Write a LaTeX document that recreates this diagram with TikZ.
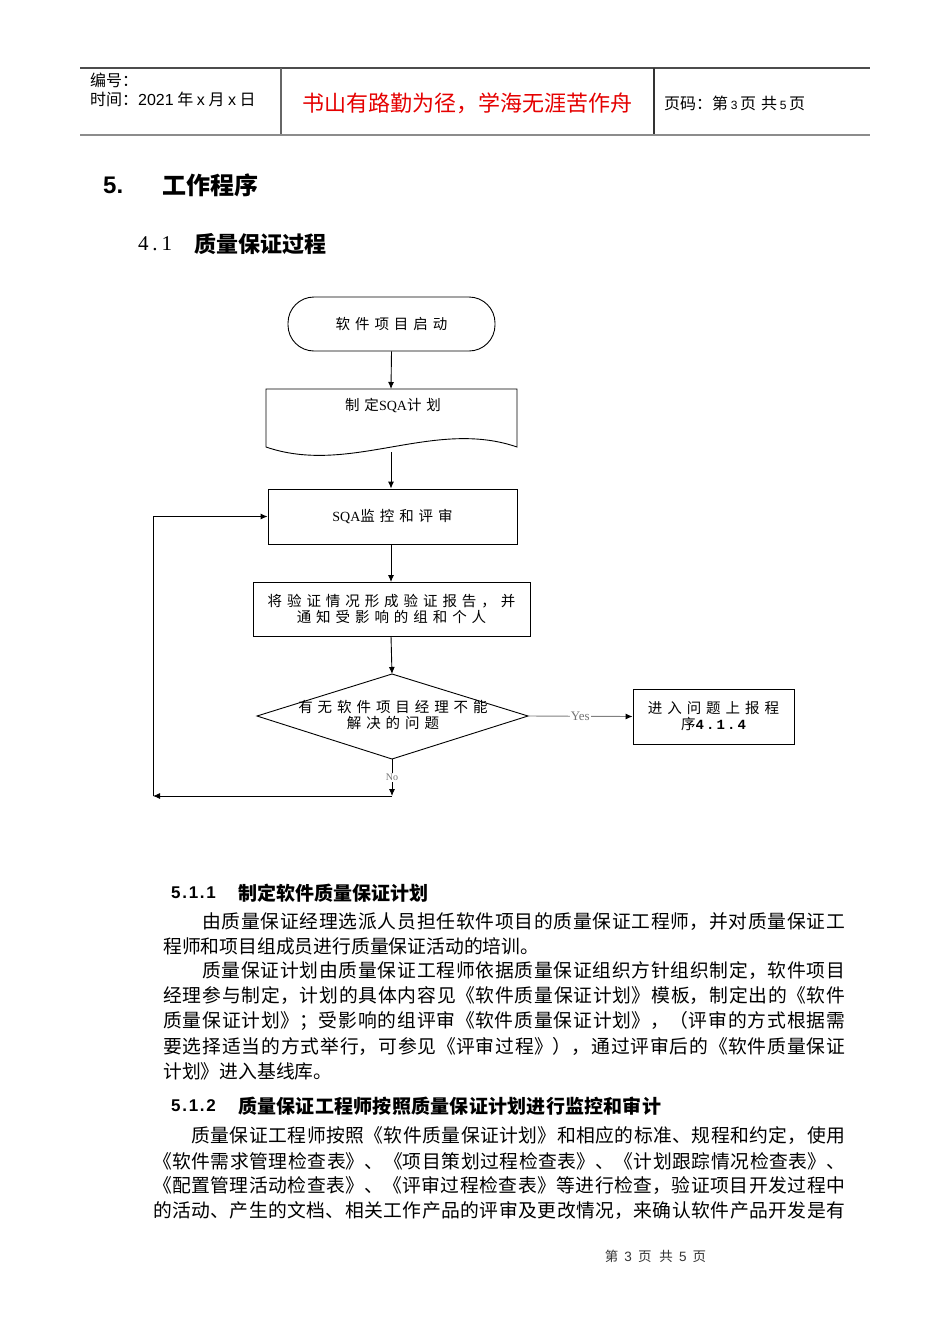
\documentclass[tikz,border=0pt]{standalone}
\usepackage{fontspec}
\setmainfont{Liberation Serif}
\usetikzlibrary{arrows.meta,calc}
\newfontfamily\cjk{Noto Sans CJK SC}
\newfontfamily\cjkfc[LetterSpace=34]{Noto Sans CJK SC}
\newfontfamily\sans{Liberation Sans}
\newfontfamily\sansls[LetterSpace=10]{Liberation Sans}
\newfontfamily\serif{Liberation Serif}
\newfontfamily\serifls[LetterSpace=18]{Liberation Serif}
\newfontfamily\monob[LetterSpace=15]{Liberation Mono}
\newcommand\fcf{\cjkfc\fontsize{14.5}{16}\selectfont}
\newcommand\sqaf{\serif\fontsize{14}{16}\selectfont}
\newcommand\bodyf{\cjk\fontsize{18.8}{24}\selectfont}
\newcommand\jline[2]{\parbox{#1}{\XeTeXlinebreaklocale "zh"\XeTeXlinebreakskip=0pt plus 4pt\parfillskip=0pt\tolerance=10000\hbadness=10000\emergencystretch=0pt #2\par}}
\begin{document}
\begin{tikzpicture}[x=1pt,y=-1pt,
  fcline/.style={line width=0.9pt, draw=black},
  fcbox/.style={draw=black, line width=0.9pt, inner sep=0pt, font=\fcf, align=center},
  arr/.style={fcline, -{Latex[length=7pt,width=6pt]}},
  txt/.style={anchor=west, inner sep=0pt},
  lab/.style={fill=white, inner sep=1pt, text=black!55}]
\useasboundingbox (0,0) rectangle (950,1344);
\fill[white] (0,0) rectangle (950,1344);
% header
\draw[line width=1.2pt, black!70] (80,68) -- (870,68);
\draw[line width=2.5pt, black!45] (80,135) -- (870,135);
\draw[line width=1.2pt, black!60] (281,68) -- (281,134);
\draw[line width=1.2pt, black!80] (654,68) -- (654,134);
\node[txt, font=\cjk\fontsize{16}{16}\selectfont] (hnum) at (90,80) {编号：};
\node[txt, font=\cjk\fontsize{16}{16}\selectfont] (htime) at (90,99) {时间：{\sans 2021} 年 {\sans x} 月 {\sans x} 日};
\node[font=\cjk\fontsize{22}{22}\selectfont, text=red!90!black, inner sep=0pt] (motto) at (467.5,103) {书山有路勤为径，学海无涯苦作舟};
\node[txt, font=\cjk\fontsize{16}{16}\selectfont] (hpage) at (664,103) {页码：第\,{\sans\fontsize{12}{12}\selectfont 3}\,页\hspace{5pt}共\,{\sans\fontsize{12}{12}\selectfont 5}\,页};
% titles
\node[txt, font=\sans\bfseries\fontsize{24}{24}\selectfont] (t5) at (103,185) {5.};
\node[txt, font=\cjk\bfseries\fontsize{24}{24}\selectfont] (t5b) at (162,185) {工作程序};
\node[txt, font=\serifls\fontsize{21}{21}\selectfont] (t41) at (138,244) {4.1};
\node[txt, font=\cjk\bfseries\fontsize{22}{22}\selectfont] (t41b) at (194,244) {质量保证过程};
% flowchart
\node[fcbox, rounded corners=26pt, minimum width=207pt, minimum height=54pt] (start) at (391.5,324) {软件项目启动};
\draw[fcline] (266,389) -- (517,389) -- (517,447) .. controls (433,418) and (350,476) .. (266,447) -- cycle;
\coordinate (plantop) at (391,389);
\coordinate (planbot) at (391,452);
\node[font=\fcf, inner sep=0pt] (plan) at (393,405) {制定{\sqaf SQA}计划};
\node[fcbox, minimum width=249pt, minimum height=55pt] (sqa) at (392.5,516.5) {{\sqaf SQA}监控和评审};
\node[fcbox, minimum width=277pt, minimum height=54pt] (rep) at (391.5,609) {将验证情况形成验证报告，并\\通知受影响的组和个人};
\coordinate (dT) at (392,674);
\coordinate (dR) at (528,716);
\coordinate (dB) at (392,759);
\coordinate (dL) at (257,716);
\draw[fcline] (dT) -- (dR) -- (dB) -- (dL) -- cycle;
\node[font=\fcf, align=center, inner sep=0pt] (dtext) at (393,715) {有无软件项目经理不能\\解决的问题};
\node[fcbox, minimum width=161pt, minimum height=55pt] (prob) at (713.5,716.5) {进入问题上报程\\序{\monob\bfseries\fontsize{14}{16}\selectfont 4.1.4}};
\coordinate (nb) at (392,796);
\coordinate (lb) at (153,796);
\draw[arr] (start.south) -- (plantop);
\draw[arr] (planbot) -- (planbot |- sqa.north);
\draw[arr] (391,544) -- (391,582);
\draw[arr] (391,636) -- (dT);
\draw[line width=0.9pt, black!50, -{Latex[length=7pt,width=6pt,color=black]}] (dR) -- node[lab, font=\serif\fontsize{13}{13}\selectfont] {Yes} (prob.west);
\draw[arr] (dB) -- node[lab, font=\serif\fontsize{10}{10}\selectfont] {No} (nb);
\draw[arr] (nb) -- (lb);
\draw[arr] (lb) |- (sqa.west);
% section 5.1.1
\node[txt, font=\sansls\bfseries\fontsize{17}{17}\selectfont] (h511) at (171,893) {5.1.1};
\node[txt, font=\cjk\bfseries\fontsize{19}{19}\selectfont] (h511b) at (238,893) {\jline{190pt}{制定软件质量保证计划}};
\node[txt, font=\bodyf] (p1) at (202,922) {\jline{643pt}{由质量保证经理选派人员担任软件项目的质量保证工程师，并对质量保证工}};
\node[txt, font=\bodyf] (p2) at (163,946) {程师和项目组成员进行质量保证活动的培训。};
\node[txt, font=\bodyf] (p3) at (202,971) {\jline{643pt}{质量保证计划由质量保证工程师依据质量保证组织方针组织制定，软件项目}};
\node[txt, font=\bodyf] (p4) at (163,996) {\jline{682pt}{经理参与制定，计划的具体内容见《软件质量保证计划》模板，制定出的《软件}};
\node[txt, font=\bodyf] (p5) at (163,1021) {\jline{682pt}{质量保证计划》；受影响的组评审《软件质量保证计划》，（评审的方式根据需}};
\node[txt, font=\bodyf] (p6) at (163,1046) {\jline{682pt}{要选择适当的方式举行，可参见《评审过程》），通过评审后的《软件质量保证}};
\node[txt, font=\bodyf] (p7) at (163,1071) {计划》进入基线库。};
% section 5.1.2
\node[txt, font=\sansls\bfseries\fontsize{17}{17}\selectfont] (h512) at (171,1106) {5.1.2};
\node[txt, font=\cjk\bfseries\fontsize{19}{19}\selectfont] (h512b) at (238,1106) {\jline{423pt}{质量保证工程师按照质量保证计划进行监控和审计}};
\node[txt, font=\bodyf] (q1) at (191,1136) {\jline{654pt}{质量保证工程师按照《软件质量保证计划》和相应的标准、规程和约定，使用}};
\node[txt, font=\bodyf] (q2) at (153,1161) {\jline{692pt}{《软件需求管理检查表》、《项目策划过程检查表》、《计划跟踪情况检查表》、}};
\node[txt, font=\bodyf] (q3) at (153,1186) {\jline{692pt}{《配置管理活动检查表》、《评审过程检查表》等进行检查，验证项目开发过程中}};
\node[txt, font=\bodyf] (q4) at (153,1211) {\jline{692pt}{的活动、产生的文档、相关工作产品的评审及更改情况，来确认软件产品开发是有}};
% footer
\node[font=\cjk\fontsize{13.5}{14}\selectfont, text=black!80, inner sep=0pt] (foot) at (655.5,1256) {第\hspace{6pt}{\sans 3}\hspace{6pt}页\hspace{8pt}共\hspace{6pt}{\sans 5}\hspace{6pt}页};
\end{tikzpicture}
\end{document}
